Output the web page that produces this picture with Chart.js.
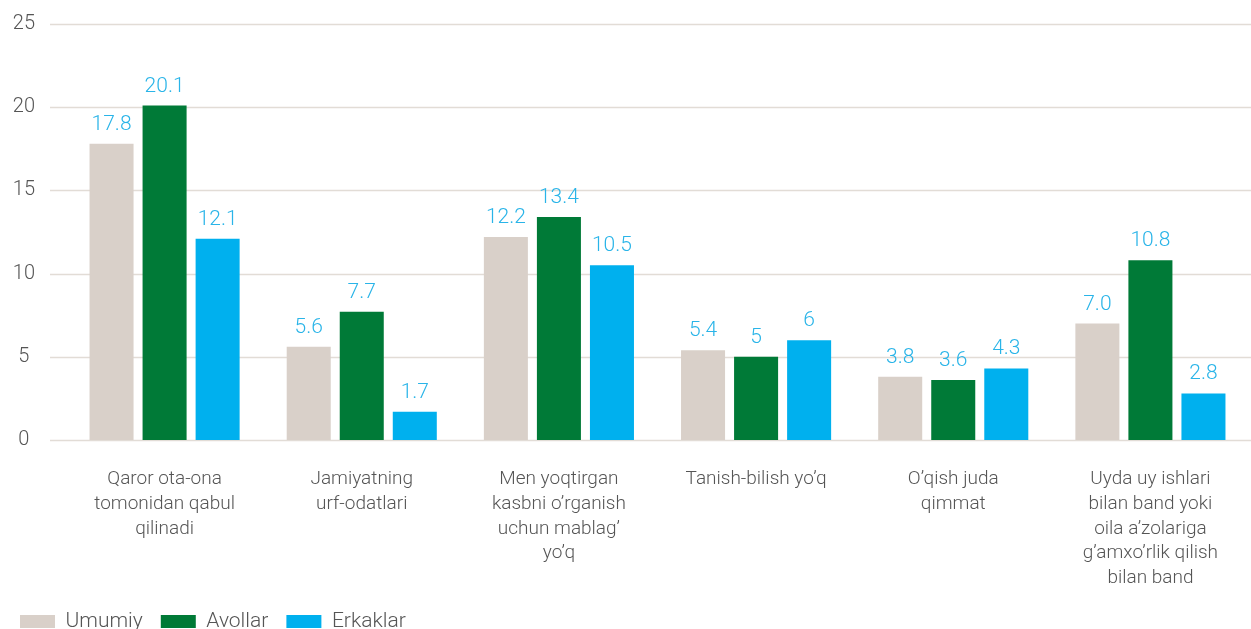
<!DOCTYPE html>
<html>
<head>
<meta charset="utf-8">
<script src="https://cdn.jsdelivr.net/npm/chart.js@4"></script>
<style>
  html, body { margin: 0; padding: 0; background: #ffffff; overflow: hidden; }
  #wrap { position: relative; width: 1251px; height: 642px; }
</style>
</head>
<body>
<div id="wrap"><canvas id="c"></canvas></div>
<script>
const categories = [
  ["Qaror ota-ona", "tomonidan qabul", "qilinadi"],
  ["Jamiyatning", "urf-odatlari"],
  ["Men yoqtirgan", "kasbni o’rganish", "uchun mablag’", "yo’q"],
  ["Tanish-bilish yo’q"],
  ["O’qish juda", "qimmat"],
  ["Uyda uy ishlari", "bilan band yoki", "oila a’zolariga", "g’amxo’rlik qilish", "bilan band"]
];
const seriesNames = ["Umumiy", "Avollar", "Erkaklar"];
const umumiy = [17.8, 5.6, 12.2, 5.4, 3.8, 7.0];
const avollar = [20.1, 7.7, 13.4, 5, 3.6, 10.8];
const erkaklar = [12.1, 1.7, 10.5, 6, 4.3, 2.8];
const umumiyLabels = ["17.8", "5.6", "12.2", "5.4", "3.8", "7.0"];
const avollarLabels = ["20.1", "7.7", "13.4", "5", "3.6", "10.8"];
const erkaklarLabels = ["12.1", "1.7", "10.5", "6", "4.3", "2.8"];
const yTicks = [0, 5, 10, 15, 20, 25];

const FONT = "Roboto, 'Liberation Sans', sans-serif";
const colors = ["#d9d0c9", "#007a37", "#00b0ee"];

const gridPlugin = {
  id: 'fullGrid',
  beforeDatasetsDraw(chart) {
    const ctx = chart.ctx;
    const y = chart.scales.y;
    ctx.save();
    ctx.strokeStyle = '#e2dcd6';
    ctx.lineWidth = 1.5;
    y.ticks.forEach(t => {
      const py = Math.round(y.getPixelForValue(t.value)) + 0.5;
      ctx.beginPath();
      ctx.moveTo(50, py);
      ctx.lineTo(chart.width, py);
      ctx.stroke();
    });
    ctx.restore();
  }
};

const labelPlugin = {
  id: 'valueLabels',
  afterDatasetsDraw(chart) {
    const ctx = chart.ctx;
    ctx.save();
    ctx.font = "300 21px " + FONT;
    ctx.fillStyle = '#29b4e8';
    ctx.textAlign = 'center';
    ctx.textBaseline = 'alphabetic';
    chart.data.datasets.forEach((ds, i) => {
      const meta = chart.getDatasetMeta(i);
      meta.data.forEach((bar, j) => {
        ctx.fillText(ds.valueLabels[j], bar.x, bar.y - 14);
      });
    });
    ctx.restore();
  }
};

new Chart(document.getElementById('c'), {
  type: 'bar',
  data: {
    labels: categories,
    datasets: [
      { label: seriesNames[0], data: umumiy, valueLabels: umumiyLabels, backgroundColor: colors[0] },
      { label: seriesNames[1], data: avollar, valueLabels: avollarLabels, backgroundColor: colors[1] },
      { label: seriesNames[2], data: erkaklar, valueLabels: erkaklarLabels, backgroundColor: colors[2] }
    ]
  },
  options: {
    responsive: true,
    maintainAspectRatio: false,
    animation: false,
    datasets: { bar: { barPercentage: 0.83, categoryPercentage: 0.807 } },
    layout: { padding: { top: 24, left: 2, right: 2, bottom: 0 } },
    plugins: {
      legend: {
        position: 'bottom',
        align: 'start',
        labels: {
          boxWidth: 35,
          boxHeight: 13,
          padding: 18,
          color: '#555555',
          font: { family: FONT, size: 21, weight: '300' }
        }
      },
      tooltip: { enabled: false }
    },
    scales: {
      x: {
        grid: { display: false, drawTicks: false },
        border: { display: false },
        ticks: {
          padding: 27,
          maxRotation: 0,
          autoSkip: false,
          color: '#555555',
          font: { family: FONT, size: 19, weight: '300', lineHeight: 1.3 }
        },
        afterFit(scale) { scale.height = 153; }
      },
      y: {
        min: 0, max: 25,
        grid: { display: false, drawTicks: false },
        border: { display: false },
        afterBuildTicks(scale) { scale.ticks = yTicks.map(v => ({ value: v })); },
        ticks: {
          crossAlign: 'center',
          padding: 31,
          color: '#555555',
          font: { family: FONT, size: 20, weight: '300' }
        },
        afterFit(scale) {
          scale.width = 64;
          scale.paddingTop = 0;
          scale.paddingBottom = 0;
        }
      }
    }
  },
  plugins: [gridPlugin, labelPlugin]
});
</script>
</body>
</html>
